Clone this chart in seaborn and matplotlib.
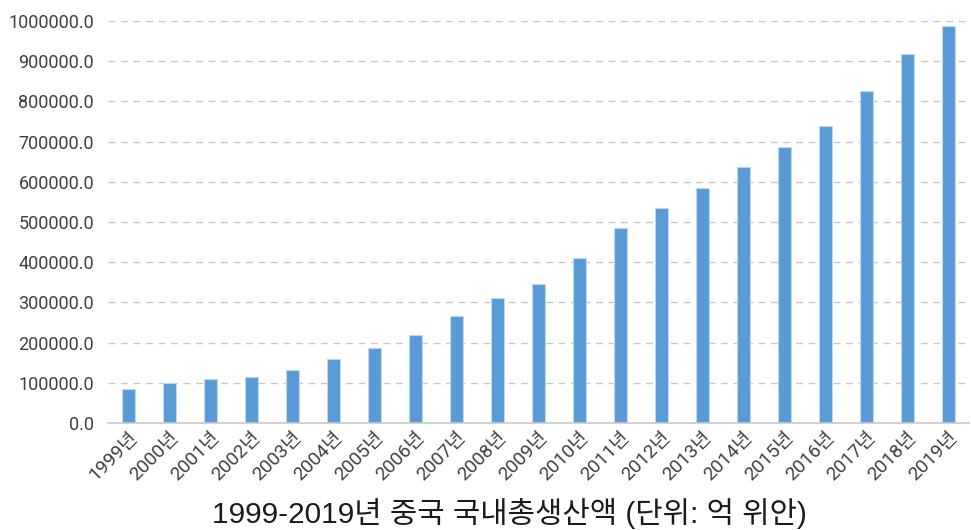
import numpy as np
import pandas as pd
import matplotlib
matplotlib.use("Agg")
from matplotlib import pyplot as plt
import seaborn as sns

years = ["1999년", "2000년", "2001년", "2002년", "2003년", "2004년", "2005년",
         "2006년", "2007년", "2008년", "2009년", "2010년", "2011년", "2012년",
         "2013년", "2014년", "2015년", "2016년", "2017년", "2018년", "2019년"]
gdp = [84200, 98800, 108700, 115300, 131700, 160000, 187500,
       218000, 266500, 310700, 346000, 410000, 484000, 534000,
       585000, 638000, 686000, 738500, 827000, 918000, 988500]
title = "1999-2019년 중국 국내총생산액 (단위: 억 위안)"

sns.set_theme(style="white")
plt.rcParams['font.family'] = ['Roboto', 'Noto Sans CJK KR', 'DejaVu Sans']

df = pd.DataFrame({"year": years, "gdp": gdp})

fig = plt.figure(figsize=(9.71, 5.30), dpi=100)
ax = fig.add_axes([108/971, 1-423/530, (969-108)/971, (423-21)/530])

sns.barplot(data=df, x="year", y="gdp", color="#5B9BD5", saturation=1,
            width=0.3, edgecolor="#BDD7EE", linewidth=0.8, ax=ax)

ax.set_ylim(0, 1000000)
ax.set_xlim(-0.5, len(years) - 0.5)
ax.set_yticks(np.arange(0, 1000001, 100000))
ax.set_yticklabels([f"{v:.1f}" for v in np.arange(0, 1000001, 100000)])
ax.yaxis.grid(True, linestyle=(0, (5, 4)), color="#C8C8C8", linewidth=1)
ax.set_axisbelow(True)
for s in ["top", "right", "left"]:
    ax.spines[s].set_visible(False)
ax.spines["bottom"].set_color("#C8C8C8")
ax.spines["bottom"].set_linewidth(1.2)
ax.tick_params(axis="both", length=0, labelsize=13, colors="#404040", pad=10)
ax.tick_params(axis="x", pad=4, labelsize=13.8)
plt.setp(ax.get_xticklabels(), rotation=45, ha="right", rotation_mode="anchor")
ax.set_xlabel("")
ax.set_ylabel("")

fig.text(509/971, 1-514/530, title, ha="center", va="center", fontsize=21.4,
         color="#1a1a1a", family=['Liberation Sans', 'Noto Sans CJK KR'])

fig.savefig("out.png", dpi=100)
